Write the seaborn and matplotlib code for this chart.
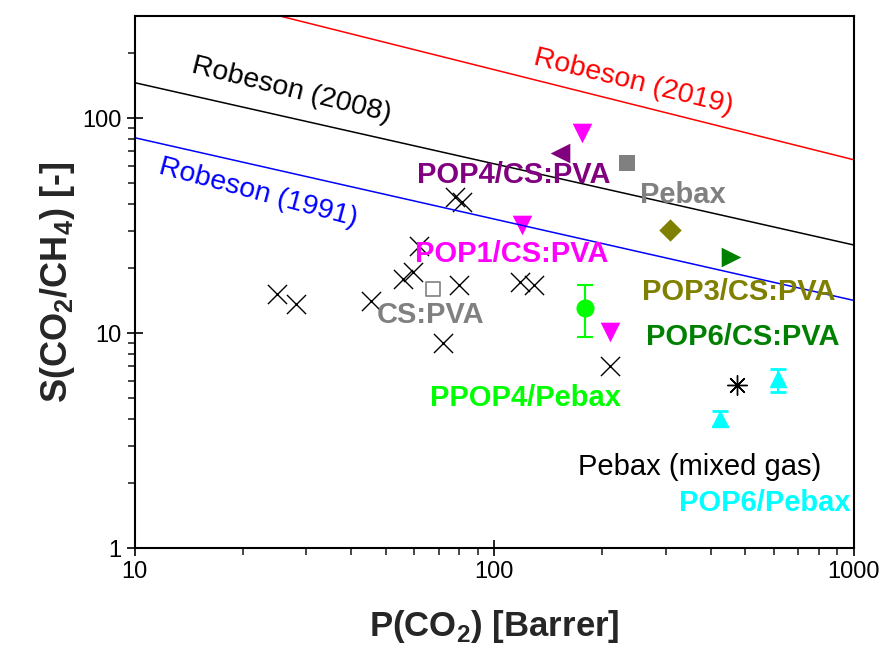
import matplotlib

matplotlib.use("Agg")
import matplotlib.pyplot as plt
import numpy as np
import seaborn as sns

# literature points (black crosses)
lit_p = [24.8, 28.0, 45.5, 55.7, 59.4, 61.8, 71.8, 77.6, 81.1, 79.8, 118.3, 128.8, 209.4]
lit_s = [15.2, 13.7, 14.1, 17.8, 19.3, 25.4, 8.96, 43.1, 40.8, 16.7, 17.2, 16.7, 7.05]

# this work
cspva_p, cspva_s = [67.6], [16.1]
pop1_p, pop1_s = [119.4, 175.0, 209.4], [31.8, 84.9, 10.1]
pop4_p, pop4_s = [152.7], [68.5]
pebax_p, pebax_s = [233.8], [61.6]
pop3_p, pop3_s = [307.6], [30.1]
pop6cs_p, pop6cs_s = [457.0], [22.6]
ppop4_p, ppop4_s, ppop4_lo, ppop4_hi = [178.6], [13.1], [9.6], [16.7]
mixed_p, mixed_s = [473.0], [5.73]
pop6pb_p, pop6pb_s = [424.0, 615.0], [4.01, 6.11]
pop6pb_lo, pop6pb_hi = [3.7, 5.3], [4.35, 6.8]

# upper bounds
bound_x = [10, 1000]
rob1991 = [81.0, 14.2]
rob2008 = [146.0, 25.7]
rob2019 = [440.0, 64.0]

sns.set_theme(style="ticks")
plt.rcParams["font.family"] = ["Liberation Sans", "DejaVu Sans"]
plt.rcParams["mathtext.fontset"] = "custom"
plt.rcParams["mathtext.rm"] = "Liberation Sans"
plt.rcParams["mathtext.bf"] = "Liberation Sans:bold"

fig, ax = plt.subplots(figsize=(8.81, 6.55), dpi=100)
fig.subplots_adjust(left=0.153, right=0.969, top=0.975, bottom=0.163)

for ys, c in [(rob1991, "#0000FF"), (rob2008, "black"), (rob2019, "#FF0000")]:
    sns.lineplot(x=bound_x, y=ys, color=c, lw=1.1, ax=ax)

sns.scatterplot(x=lit_p, y=lit_s, marker="x", s=190, color="black", linewidth=1.0, ax=ax)
sns.scatterplot(x=cspva_p, y=cspva_s, marker="s", s=110, facecolor="white",
                edgecolor="#808080", linewidth=1.2, ax=ax)
sns.scatterplot(x=pop1_p, y=pop1_s, marker="v", s=200, color="#FF00FF", linewidth=0, ax=ax)
sns.scatterplot(x=pop4_p, y=pop4_s, marker="<", s=200, color="#800080", linewidth=0, ax=ax)
sns.scatterplot(x=pebax_p, y=pebax_s, marker="s", s=120, color="#808080", linewidth=0, ax=ax)
sns.scatterplot(x=pop3_p, y=pop3_s, marker="D", s=130, color="#808000", linewidth=0, ax=ax)
sns.scatterplot(x=pop6cs_p, y=pop6cs_s, marker=">", s=200, color="#008000", linewidth=0, ax=ax)
sns.scatterplot(x=mixed_p, y=mixed_s, marker=(8, 2, 0), s=200, color="black", linewidth=1.0, ax=ax)

pp = np.array(ppop4_s)
ax.errorbar(ppop4_p, ppop4_s, yerr=[pp - np.array(ppop4_lo), np.array(ppop4_hi) - pp],
            fmt="o", ms=12, color="#00FF00", ecolor="#00FF00", elinewidth=1.5, capsize=6, capthick=1.5)
pb = np.array(pop6pb_s)
ax.errorbar(pop6pb_p, pop6pb_s, yerr=[pb - np.array(pop6pb_lo), np.array(pop6pb_hi) - pb],
            fmt="^", ms=12, color="#00FFFF", ecolor="#00FFFF", elinewidth=1.5, capsize=6, capthick=2)

ax.set_xscale("log")
ax.set_yscale("log")
ax.set_xlim(10, 1000)
ax.set_ylim(1, 297)
ax.set_xticks([10, 100, 1000])
ax.set_xticklabels(["10", "100", "1000"])
ax.set_yticks([1, 10, 100])
ax.set_yticklabels(["1", "10", "100"])
ax.tick_params(which="major", direction="inout", length=12, width=1.2, labelsize=17, colors="black")
ax.tick_params(which="minor", direction="out", length=5, width=1.2)
ax.tick_params(top=False, right=False, which="both")
for sp in ax.spines.values():
    sp.set_linewidth(1.5)
    sp.set_color("black")

ax.set_xlabel("P(CO$_\\mathbf{2}$) [Barrer]", fontsize=25, fontweight="bold", labelpad=18)
ax.set_ylabel("S(CO$_\\mathbf{2}$/CH$_\\mathbf{4}$) [-]", fontsize=26, fontweight="bold", labelpad=4)

# line labels
rfont = dict(fontsize=20.5, ha="center", va="center")
ax.text(27.3, 135, "Robeson (2008)", color="black", rotation=-14, **rfont)
ax.text(244, 147, "Robeson (2019)", color="#FF0000", rotation=-14, **rfont)
ax.text(22.0, 44.8, "Robeson (1991)", color="#0000FF", rotation=-15, **rfont)

bfont = dict(fontsize=21, fontweight="bold", ha="center", va="center")
ax.text(113, 54.3, "POP4/CS:PVA", color="#800080", **bfont)
ax.text(334, 43.8, "Pebax", color="#808080", **bfont)
ax.text(112, 23.3, "POP1/CS:PVA", color="#FF00FF", **bfont)
ax.text(66.5, 12.1, "CS:PVA", color="#808080", **bfont)
ax.text(479, 15.5, "POP3/CS:PVA", color="#808000", **bfont)
ax.text(491, 9.58, "POP6/CS:PVA", color="#008000", **bfont)
ax.text(122, 4.98, "PPOP4/Pebax", color="#00FF00", **bfont)
ax.text(565, 1.62, "POP6/Pebax", color="#00FFFF", **bfont)
ax.text(373, 2.38, "Pebax (mixed gas)", color="black", fontsize=21, ha="center", va="center")

fig.savefig("out.png", dpi=100)
